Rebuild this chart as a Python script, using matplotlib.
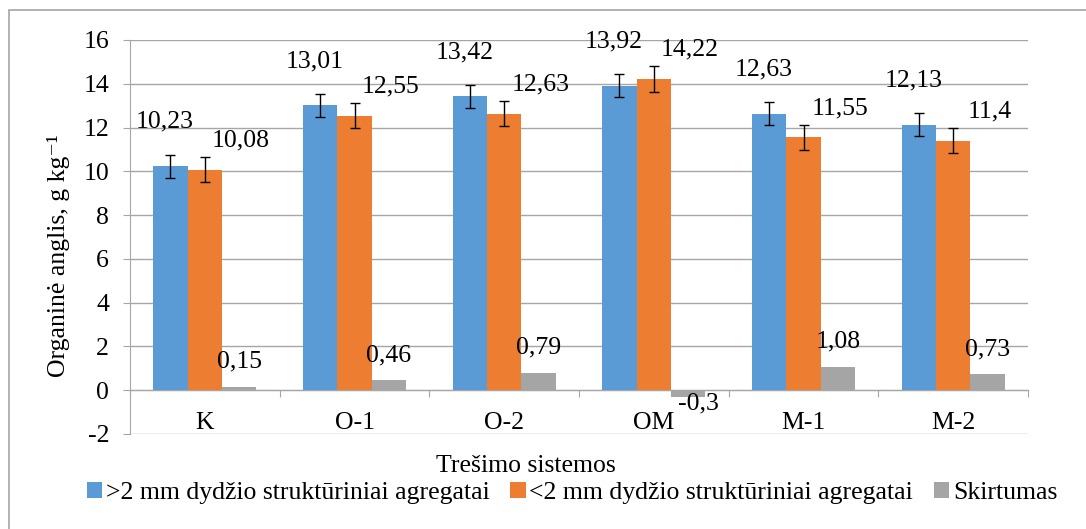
import numpy as np
import matplotlib.pyplot as plt
from matplotlib.patches import Rectangle

plt.rcParams['font.family'] = ['Liberation Serif', 'DejaVu Serif']
plt.rcParams['axes.unicode_minus'] = False

# duomenys
systems = ['K', 'O-1', 'O-2', 'OM', 'M-1', 'M-2']
big_agg = [10.23, 13.01, 13.42, 13.92, 12.63, 12.13]
small_agg = [10.08, 12.55, 12.63, 14.22, 11.55, 11.4]
diff = [0.15, 0.46, 0.79, -0.3, 1.08, 0.73]
big_err = [0.53, 0.53, 0.53, 0.53, 0.53, 0.53]
small_err = [0.58, 0.58, 0.58, 0.58, 0.58, 0.58]
series_names = ['>2 mm dydžio struktūriniai agregatai',
                '<2 mm dydžio struktūriniai agregatai',
                'Skirtumas']

blue = '#5B9BD5'
orange = '#ED7D31'
gray = '#A5A5A5'
grid_c = '#A6A6A6'
fs = 18.5

fig = plt.figure(figsize=(10.86, 5.29), dpi=100)
ax = fig.add_axes([130 / 1086, 1 - 434 / 529, 898 / 1086, 394 / 529])

x = np.arange(len(systems))
w = 0.23
b1 = ax.bar(x - w, big_agg, w, color=blue, yerr=big_err, capsize=3.6,
            error_kw=dict(elinewidth=1, capthick=1, ecolor='black'), label=series_names[0])
b2 = ax.bar(x, small_agg, w, color=orange, yerr=small_err, capsize=3.6,
            error_kw=dict(elinewidth=1, capthick=1, ecolor='black'), label=series_names[1])
b3 = ax.bar(x + w, diff, w, color=gray, label=series_names[2])

def fmt(v):
    return ('%g' % v).replace('.', ',')

# reikšmių etiketės (poslinkiai taškais)
for xi, v in zip(x, big_agg):
    ax.annotate(fmt(v), (xi - w, v), xytext=(-4, 32), textcoords='offset points',
                ha='center', va='center', fontsize=fs)
for xi, v in zip(x, small_agg):
    ax.annotate(fmt(v), (xi, v), xytext=(26, 21), textcoords='offset points',
                ha='center', va='center', fontsize=fs)
for xi, v in zip(x, diff):
    off = (0, 18) if v >= 0 else (7, -5)
    ax.annotate(fmt(v), (xi + w, v), xytext=off, textcoords='offset points',
                ha='center', va='center', fontsize=fs)

ax.set_ylim(-2, 16)
ax.set_xlim(-0.5, len(systems) - 0.5)
ax.set_yticks(np.arange(-2, 17, 2))
ax.tick_params(axis='y', labelsize=fs, length=5, color=grid_c, pad=10)
ax.grid(axis='y', color=grid_c, linewidth=1)
ax.set_axisbelow(True)

for s in ['top', 'right']:
    ax.spines[s].set_visible(False)
ax.spines['left'].set_color(grid_c)
ax.spines['bottom'].set_position(('data', 0))
ax.spines['bottom'].set_color(grid_c)

# kategorijų ribos ir pavadinimai
ax.set_xticks(np.arange(-0.5, len(systems), 1))
ax.set_xticklabels([])
ax.tick_params(axis='x', which='major', length=5, color=grid_c)
ax.set_xticks(x, minor=True)
ax.set_xticklabels(systems, minor=True, fontsize=fs)
ax.tick_params(axis='x', which='minor', length=0, pad=16)

fig.text(58 / 1086, 1 - 256 / 529, 'Organinė anglis, g kg⁻¹', rotation=90,
         ha='center', va='center', fontsize=fs)
fig.text(526 / 1086, 1 - 466 / 529, 'Trešimo sistemos', ha='center', va='center', fontsize=fs)

fig.legend(handles=[b1, b2, b3], loc='center', bbox_to_anchor=(572 / 1086, 1 - 493 / 529),
           ncol=3, frameon=False, fontsize=fs, handlelength=0.6, handleheight=0.6,
           handletextpad=0.15, columnspacing=0.8, borderaxespad=0)

fig.patches.append(Rectangle((9 / 1086, -0.1), 1.2, 1.1 - 10 / 529, transform=fig.transFigure,
                             fill=False, edgecolor=grid_c, linewidth=1.2))

plt.savefig('out.png', dpi=100)
